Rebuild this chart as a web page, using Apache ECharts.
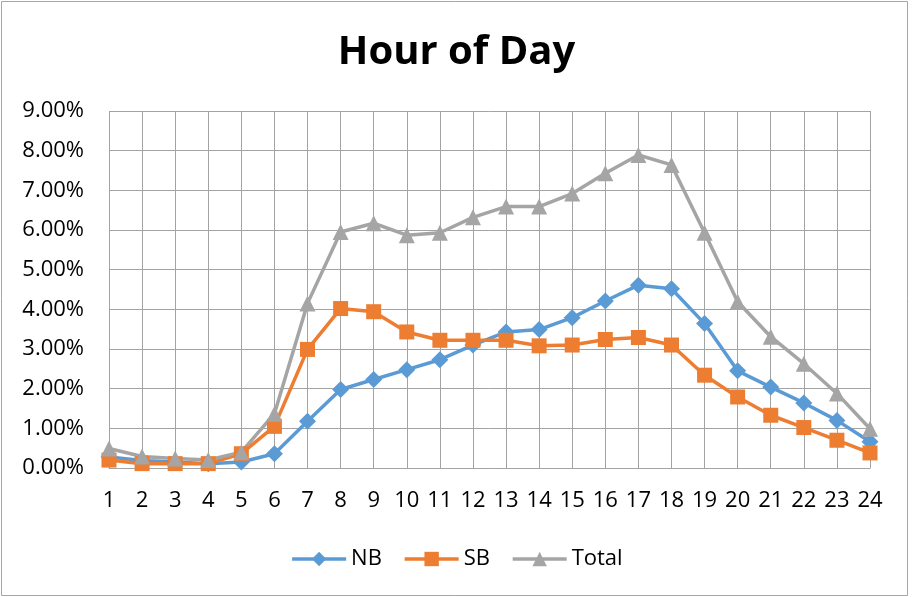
<!DOCTYPE html>
<html>
<head>
<meta charset="utf-8">
<script src="https://cdn.jsdelivr.net/npm/echarts@6/dist/echarts.min.js"></script>
<style>
  html, body { margin: 0; padding: 0; background: #fff; }
  #chart { width: 913px; height: 597px; }
</style>
</head>
<body>
<div id="chart"></div>
<script>
// hours on the x axis
const hours = ['1','2','3','4','5','6','7','8','9','10','11','12','13','14','15','16','17','18','19','20','21','22','23','24'];
// share of traffic per hour, in percent
const nb = [0.28, 0.19, 0.15, 0.11, 0.15, 0.36, 1.18, 1.98, 2.23, 2.48, 2.73, 3.10, 3.43, 3.49, 3.79, 4.21, 4.61, 4.52, 3.64, 2.45, 2.04, 1.64, 1.20, 0.66];
const sb = [0.20, 0.11, 0.11, 0.11, 0.36, 1.05, 2.99, 4.02, 3.94, 3.43, 3.22, 3.22, 3.22, 3.08, 3.10, 3.24, 3.29, 3.10, 2.34, 1.79, 1.33, 1.02, 0.70, 0.38];
const total = [0.49, 0.29, 0.24, 0.20, 0.40, 1.37, 4.15, 5.95, 6.17, 5.87, 5.93, 6.32, 6.59, 6.59, 6.92, 7.43, 7.89, 7.64, 5.93, 4.19, 3.31, 2.63, 1.88, 0.99];

const chart = echarts.init(document.getElementById('chart'));
const gridColor = '#a3a3a3';
const font = '"Open Sans", sans-serif';

// one line series, styled like the Excel default
function lineSeries(name, data, color, symbol, size) {
  return {
    name: name,
    type: 'line',
    data: data,
    symbol: symbol,
    symbolSize: size,
    lineStyle: { color: color, width: 3.5 },
    itemStyle: { color: color },
    emphasis: { disabled: true },
    animation: false
  };
}

chart.setOption({
  backgroundColor: '#fff',
  title: {
    text: 'Hour of Day',
    left: 'center',
    top: 28,
    textStyle: { fontFamily: font, fontWeight: 'bold', fontSize: 40, color: '#000' }
  },
  legend: {
    data: ['NB', 'SB', 'Total'],
    bottom: 22,
    left: 'center',
    itemWidth: 54,
    itemHeight: 18,
    itemGap: 21,
    lineStyle: { width: 3.5 },
    textStyle: { fontFamily: font, fontSize: 22, color: '#000' }
  },
  grid: { left: 109, right: 43, top: 111, bottom: 129 },
  xAxis: {
    type: 'category',
    data: hours,
    boundaryGap: false,
    axisLine: { lineStyle: { color: gridColor, width: 1 } },
    axisTick: { show: false },
    axisLabel: { fontFamily: font, fontSize: 22, color: '#000', margin: 22, interval: 0 },
    splitLine: { show: true, lineStyle: { color: gridColor, width: 1 } }
  },
  yAxis: {
    type: 'value',
    min: 0,
    max: 9,
    interval: 1,
    axisLine: { show: false },
    axisTick: { show: false },
    axisLabel: {
      fontFamily: font, fontSize: 22, color: '#000', margin: 25,
      formatter: v => v.toFixed(2) + '%'
    },
    splitLine: { lineStyle: { color: gridColor, width: 1 } }
  },
  graphic: [{
    type: 'rect',
    shape: { x: 1.5, y: 1.5, width: 906, height: 594 },
    style: { fill: 'none', stroke: '#a6a6a6', lineWidth: 1 },
    silent: true
  }],
  series: [
    lineSeries('NB', nb, '#5B9BD5', 'diamond', 17),
    lineSeries('SB', sb, '#ED7D31', 'rect', 15),
    lineSeries('Total', total, '#A5A5A5', 'triangle', 16)
  ]
});
</script>
</body>
</html>
